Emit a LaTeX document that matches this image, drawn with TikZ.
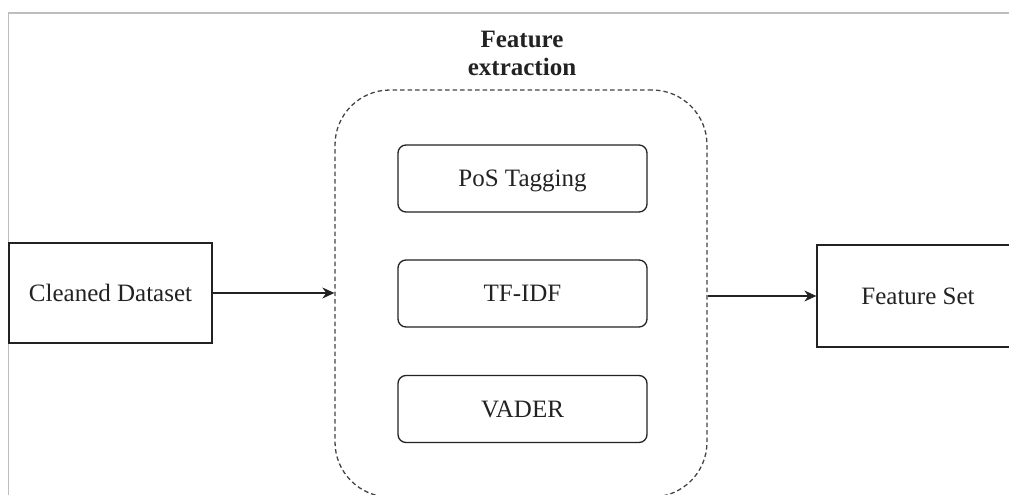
\documentclass[tikz,border=0pt]{standalone}
\usepackage{fontspec}
\setmainfont{Liberation Serif}
\usetikzlibrary{arrows.meta}
\definecolor{framegray}{HTML}{BDBDBD}
\definecolor{ink}{HTML}{222222}
\definecolor{dashgray}{HTML}{444444}
\tikzset{
  every node/.style={font=\fontsize{25}{28}\selectfont, text=ink},
  capcentred/.style={text height=16.5pt, text depth=0pt},
  plainbox/.style={draw=ink, line width=1.3pt, inner sep=0pt, capcentred},
  stagebox/.style={draw=ink, line width=1.3pt, rounded corners=8pt, capcentred,
                   minimum width=249pt, minimum height=67pt, inner sep=0pt},
  groupbox/.style={draw=dashgray, line width=1.3pt, dash pattern=on 4.5pt off 3pt,
                   rounded corners=55pt, minimum width=372pt, minimum height=407pt, inner sep=0pt},
  flow/.style={draw=ink, line width=1.3pt, -{Stealth[length=12pt,width=11pt]}}
}
\begin{document}
\begin{tikzpicture}[x=1pt,y=-1pt]
  \useasboundingbox (0,0) rectangle (1009,495);
  \clip (0,0) rectangle (1009,495);
  % outer page frame
  \draw[framegray, line width=1.6pt] (8.5,500) -- (8.5,13) -- (1015,13);

  % feature extraction group
  \node[groupbox] (group) at (521,293.5) {};
  \node[font=\bfseries\fontsize{25}{28}\selectfont, align=center, anchor=north, inner sep=0pt]
       (title) at (522,31) {Feature\\extraction};

  \node[stagebox] (pos)   at (522.5,178.5) {PoS Tagging};
  \node[stagebox] (tfidf) at (522.5,293.5) {TF-IDF};
  \node[stagebox] (vader) at (522.5,409)   {VADER};

  % input and output
  \node[plainbox, minimum width=203pt, minimum height=100pt] (clean) at (110.5,293) {Cleaned Dataset};
  \node[plainbox, minimum width=202pt, minimum height=102pt] (fset)  at (918,296)   {Feature Set};

  \draw[flow] (clean.east) -- (clean.east -| group.west);
  \draw[flow] (fset.west -| group.east) -- (fset.west);
\end{tikzpicture}
\end{document}
